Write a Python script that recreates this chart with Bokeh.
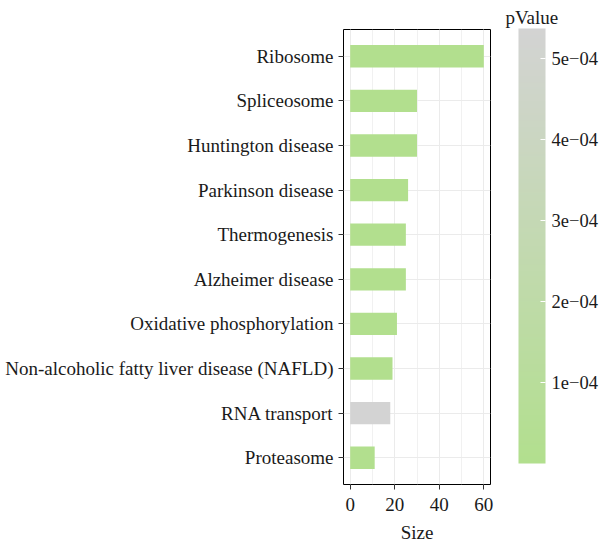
from bokeh.plotting import figure
from bokeh.models import (ColumnDataSource, FactorRange, Range1d, LinearColorMapper, ColorBar,
                          SingleIntervalTicker, FixedTicker, CustomJSTickFormatter, Title)
from bokeh.transform import transform
from bokeh.embed import file_html
from bokeh.resources import INLINE

# ---- data ----
pathways = ["Ribosome", "Spliceosome", "Huntington disease", "Parkinson disease", "Thermogenesis",
            "Alzheimer disease", "Oxidative phosphorylation",
            "Non-alcoholic fatty liver disease (NAFLD)", "RNA transport", "Proteasome"]
sizes = [60, 30, 30, 26, 25, 25, 21, 19, 18, 11]
pvalues = [3.1e-25, 2.4e-9, 4.5e-8, 1.1e-8, 7.9e-8, 2.6e-7, 6.3e-8, 1.9e-6, 5.37e-4, 1.2e-6]
colorbar_ticks = [1e-4, 2e-4, 3e-4, 4e-4, 5e-4]
legend_title = "pValue"

FONT = "Liberation Serif"
FS = "19px"
TXT = "#1A1A1A"

low_rgb = (178, 223, 142)
high_rgb = (211, 211, 211)
n = 256
palette = ["#%02x%02x%02x" % tuple(round(l + (h - l) * i / (n - 1)) for l, h in zip(low_rgb, high_rgb))
           for i in range(n)]

mapper = LinearColorMapper(palette=palette, low=min(pvalues), high=max(pvalues))

src = ColumnDataSource(dict(pathway=pathways, size=sizes, pvalue=pvalues))

p = figure(width=600, height=546, output_backend="svg", toolbar_location=None,
           y_range=FactorRange(factors=pathways[::-1], range_padding=0.1, range_padding_units="absolute"),
           x_range=Range1d(-3, 63),
           min_border_left=343, min_border_right=110, min_border_top=29, min_border_bottom=62)

p.title = Title(text=legend_title, align="left", offset=162, standoff=4,
                text_font=FONT, text_font_size=FS, text_font_style="normal", text_color=TXT)

p.hbar(y="pathway", right="size", left=0, height=0.5, source=src,
       fill_color=transform("pvalue", mapper), line_color=None)

p.background_fill_color = "white"
p.outline_line_color = "black"
p.outline_line_width = 1

p.xaxis.ticker = SingleIntervalTicker(interval=20, num_minor_ticks=2)
p.xaxis.axis_label = "Size"
p.xaxis.axis_label_text_font = FONT
p.xaxis.axis_label_text_font_size = FS
p.xaxis.axis_label_text_font_style = "normal"
p.xaxis.axis_label_text_color = TXT
p.xaxis.axis_label_standoff = 8

for ax in (p.xaxis[0], p.yaxis[0]):
    ax.axis_line_color = None
    ax.major_label_text_font = FONT
    ax.major_label_text_font_size = FS
    ax.major_label_text_color = TXT
    ax.major_tick_line_color = "#333333"
    ax.major_tick_in = 0
    ax.major_tick_out = 5
    ax.minor_tick_line_color = None
p.xaxis.major_label_standoff = 8
p.yaxis.major_label_standoff = 5

p.xgrid.grid_line_color = "#EBEBEB"
p.xgrid.grid_line_width = 1
p.xgrid.minor_grid_line_color = "#EBEBEB"
p.xgrid.minor_grid_line_width = 0.7
p.ygrid.grid_line_color = "#EBEBEB"
p.ygrid.grid_line_width = 1

cb = ColorBar(color_mapper=mapper, ticker=FixedTicker(ticks=colorbar_ticks),
              formatter=CustomJSTickFormatter(code="return tick.toExponential(0).replace('e-', 'e\u22120');"),
              width=27, height=435, padding=0, margin=0,
              major_label_text_font=FONT, major_label_text_font_size="18.5px", major_label_text_color=TXT,
              label_standoff=6, major_tick_line_color="white", major_tick_in=5, major_tick_out=0,
              bar_line_color=None, background_fill_color=None, border_line_color=None,
              location=(175, 21))
p.add_layout(cb, "center")

open("out.html", "w").write(file_html(p, INLINE))
